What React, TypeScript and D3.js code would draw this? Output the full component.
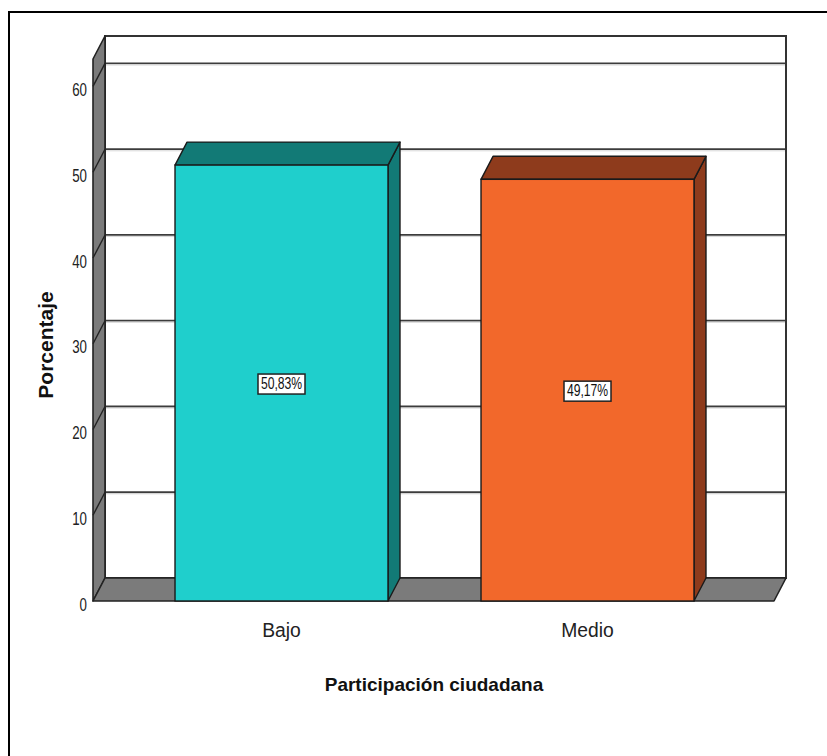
import React from "react";
import * as d3 from "d3";

const categories = ["Bajo", "Medio"];
const percentages = [50.83, 49.17];
const valueLabels = ["50,83%", "49,17%"];
const yTicks = [0, 10, 20, 30, 40, 50, 60];
const frontColors = ["#1fcfcc", "#f2682b"];
const sideColors = ["#127a76", "#8e3b1c"];

const W = 827;
const H = 756;
const DX = -12; // back -> front offset
const DY = 23;
const BACK_L = 105;
const BACK_R = 786;

export default function App() {
  const y = d3.scaleLinear().domain([0, 63.2]).range([578, 36]);
  const yF = (v: number) => y(v) + DY;
  const x = d3
    .scaleBand<string>()
    .domain(categories)
    .range([128.5, 740.5])
    .paddingInner(0.304)
    .paddingOuter(0.152);
  const top = y.range()[1];
  const base = y(0);
  const sans = "'Liberation Sans', Arial, sans-serif";

  const pts = (p: number[][]) => p.map((q) => q.join(",")).join(" ");

  return (
    <svg
      width={W}
      height={H}
      style={{ position: "absolute", left: 0, top: 0, background: "#fff" }}
    >
      <rect x={0} y={0} width={W} height={H} fill="#fff" />
      {/* outer border */}
      <path d={`M9,${H + 5} L9,12 L${W + 5},12`} fill="none" stroke="#000" strokeWidth={2} />

      {/* back wall */}
      <rect x={BACK_L} y={top} width={BACK_R - BACK_L} height={base - top} fill="#fff" />
      {yTicks
        .filter((t) => t > 0)
        .map((t) => (
          <g key={"g" + t}>
            <line x1={BACK_L} x2={BACK_R} y1={y(t)} y2={y(t)} stroke="#3c3c3c" strokeWidth={1.8} />
            <line x1={BACK_L} x2={BACK_R} y1={y(t) + 1.6} y2={y(t) + 1.6} stroke="#d8d8d8" strokeWidth={1} />
          </g>
        ))}
      <rect
        x={BACK_L}
        y={top}
        width={BACK_R - BACK_L}
        height={base - top}
        fill="none"
        stroke="#333"
        strokeWidth={2}
      />

      {/* side wall */}
      <polygon
        points={pts([
          [BACK_L, top],
          [BACK_L, base],
          [BACK_L + DX, base + DY],
          [BACK_L + DX, top + DY],
        ])}
        fill="#7b7b7b"
        stroke="#222"
        strokeWidth={1.6}
        strokeLinejoin="round"
      />
      {yTicks
        .filter((t) => t > 0)
        .map((t) => (
          <line
            key={"s" + t}
            x1={BACK_L}
            y1={y(t)}
            x2={BACK_L + DX}
            y2={yF(t)}
            stroke="#222"
            strokeWidth={1.4}
          />
        ))}

      {/* floor */}
      <polygon
        points={pts([
          [BACK_L, base],
          [BACK_R, base],
          [BACK_R + DX, base + DY],
          [BACK_L + DX, base + DY],
        ])}
        fill="#7b7b7b"
        stroke="#222"
        strokeWidth={1.6}
        strokeLinejoin="round"
      />

      {/* tick labels */}
      {yTicks.map((t) => (
        <text
          key={"t" + t}
          transform={`translate(87,${yF(t) + 5}) scale(0.74,1)`}
          textAnchor="end"
          dominantBaseline="middle"
          fontFamily={sans}
          fontSize={18}
          fill="#222"
        >
          {t}
        </text>
      ))}

      {/* bars */}
      {categories.map((c, i) => {
        const x0 = x(c)!;
        const x1 = x0 + x.bandwidth();
        const yt = yF(percentages[i]);
        const yb = yF(0);
        return (
          <g key={c}>
            <polygon
              points={pts([
                [x1, yt],
                [x1 - DX, yt - DY],
                [x1 - DX, yb - DY],
                [x1, yb],
              ])}
              fill={sideColors[i]}
              stroke="#1a1a1a"
              strokeWidth={1.4}
              strokeLinejoin="round"
            />
            <polygon
              points={pts([
                [x0, yt],
                [x0 - DX, yt - DY],
                [x1 - DX, yt - DY],
                [x1, yt],
              ])}
              fill={sideColors[i]}
              stroke="#1a1a1a"
              strokeWidth={1.4}
              strokeLinejoin="round"
            />
            <rect
              x={x0}
              y={yt}
              width={x1 - x0}
              height={yb - yt}
              fill={frontColors[i]}
              stroke="#1a1a1a"
              strokeWidth={1.4}
            />
          </g>
        );
      })}

      {/* value labels */}
      {categories.map((c, i) => {
        const cx = x(c)! + x.bandwidth() / 2;
        const cy = yF(percentages[i] / 2) + 1;
        const bw = 47;
        const bh = 20;
        return (
          <g key={"l" + c}>
            <rect
              x={cx - bw / 2}
              y={cy - bh / 2}
              width={bw}
              height={bh}
              fill="#fff"
              stroke="#222"
              strokeWidth={1.5}
            />
            <text
              transform={`translate(${cx},${cy + 1}) scale(0.76,1)`}
              textAnchor="middle"
              dominantBaseline="middle"
              fontFamily={sans}
              fontSize={16}
              fill="#111"
            >
              {valueLabels[i]}
            </text>
          </g>
        );
      })}

      {/* category labels */}
      {categories.map((c) => (
        <text
          key={"c" + c}
          transform={`translate(${x(c)! + x.bandwidth() / 2},631) scale(0.92,1)`}
          textAnchor="middle"
          dominantBaseline="middle"
          fontFamily={sans}
          fontSize={21}
          fill="#222"
        >
          {c}
        </text>
      ))}

      {/* axis titles */}
      <text
        x={434}
        y={686}
        textAnchor="middle"
        dominantBaseline="middle"
        fontFamily={sans}
        fontWeight="bold"
        fontSize={19}
        fill="#111"
      >
        Participación ciudadana
      </text>
      <text
        transform={`translate(47,345) rotate(-90)`}
        textAnchor="middle"
        dominantBaseline="middle"
        fontFamily={sans}
        fontWeight="bold"
        fontSize={21}
        fill="#111"
      >
        Porcentaje
      </text>
    </svg>
  );
}
